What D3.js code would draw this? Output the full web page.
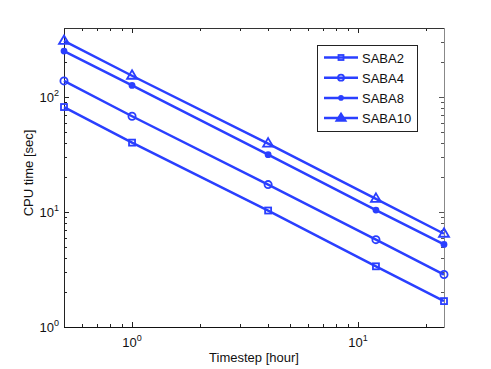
<!DOCTYPE html>
<html><head><meta charset="utf-8">
<script src="https://cdn.jsdelivr.net/npm/d3@7"></script>
<style>body{margin:0;background:#fff;}svg{display:block;font-family:"Liberation Sans",Arial,sans-serif;}</style>
</head><body>
<svg id="c" width="491" height="369"></svg>
<script>
const timesteps = [0.5, 1, 4, 12, 24];
const seriesNames = ["SABA2", "SABA4", "SABA8", "SABA10"];
const saba2 = [81.8, 40.1, 10.3, 3.37, 1.68];
const saba4 = [138, 68, 17.3, 5.75, 2.86];
const saba8 = [251, 126, 31.5, 10.4, 5.22];
const saba10 = [307, 153, 39.3, 13.0, 6.47];
const seriesValues = [saba2, saba4, saba8, saba10];
const markerTypes = ["square", "circle", "dot", "triangle"];
const xTickExps = [0, 1];
const yTickExps = [0, 1, 2];

const color = "#2a3fff";
const svg = d3.select("#c");
const L = 64, R = 444, T = 28, B = 327;
const x = d3.scaleLog().domain([0.5, 24]).range([L, R]);
const y = d3.scaleLog().domain([1, 398]).range([B, T]);

const xMinor = [];
for (let d = -1; d <= 1; d++) for (let m = 1; m <= 9; m++) { const v = m * Math.pow(10, d); if (v >= 0.5 && v <= 24) xMinor.push(v); }
const yMinor = [];
for (let d = 0; d <= 2; d++) for (let m = 1; m <= 9; m++) { const v = m * Math.pow(10, d); if (v >= 1 && v <= 398) yMinor.push(v); }

const g = svg.append("g");
const tk = g.append("g").attr("stroke", "#222").attr("stroke-width", 1);
const isMajor = v => Math.abs(Math.log10(v) - Math.round(Math.log10(v))) < 1e-9;
xMinor.forEach(v => {
  const len = isMajor(v) ? 5 : 3;
  const px = Math.round(x(v)) + 0.5;
  tk.append("line").attr("x1", px).attr("x2", px).attr("y1", B).attr("y2", B - len);
  tk.append("line").attr("x1", px).attr("x2", px).attr("y1", T).attr("y2", T + len);
});
yMinor.forEach(v => {
  const len = isMajor(v) ? 5 : 3;
  const py = Math.round(y(v)) + 0.5;
  tk.append("line").attr("y1", py).attr("y2", py).attr("x1", L).attr("x2", L + len);
  tk.append("line").attr("y1", py).attr("y2", py).attr("x1", R).attr("x2", R - len).attr("stroke", "#555");
});
// frame
g.append("line").attr("x1", L + 0.5).attr("x2", L + 0.5).attr("y1", T).attr("y2", B + 1).attr("stroke", "#222");
g.append("line").attr("x1", L).attr("x2", R + 1).attr("y1", B + 0.5).attr("y2", B + 0.5).attr("stroke", "#111");
g.append("line").attr("x1", L).attr("x2", R + 1).attr("y1", T + 0.5).attr("y2", T + 0.5).attr("stroke", "#333");
g.append("line").attr("x1", R + 0.5).attr("x2", R + 0.5).attr("y1", T).attr("y2", B + 1).attr("stroke", "#888");

xTickExps.forEach(e => {
  const t = g.append("text").attr("x", x(Math.pow(10, e))).attr("y", B + 20).attr("text-anchor", "middle")
    .attr("font-size", 13).attr("fill", "#111");
  t.append("tspan").text("10");
  t.append("tspan").attr("dy", -6).attr("font-size", 9).text(e);
});
yTickExps.forEach(e => {
  const t = g.append("text").attr("x", L - 5).attr("y", y(Math.pow(10, e)) + 5).attr("text-anchor", "end")
    .attr("font-size", 13).attr("fill", "#111");
  t.append("tspan").text("10");
  t.append("tspan").attr("dy", -6).attr("font-size", 9).text(e);
});
g.append("text").attr("x", (L + R) / 2).attr("y", 362).attr("text-anchor", "middle")
  .attr("font-size", 13).attr("fill", "#111").text("Timestep [hour]");
g.append("text").attr("transform", `translate(33,173) rotate(-90)`).attr("text-anchor", "middle")
  .attr("font-size", 13).attr("fill", "#111").text("CPU time [sec]");

function drawMarker(sel, type, cx, cy) {
  if (type === "square") {
    sel.append("rect").attr("x", cx - 3).attr("y", cy - 3).attr("width", 6).attr("height", 6)
      .attr("fill", "none").attr("stroke", color).attr("stroke-width", 1.8);
  } else if (type === "circle") {
    sel.append("circle").attr("cx", cx).attr("cy", cy).attr("r", 3.6)
      .attr("fill", "none").attr("stroke", color).attr("stroke-width", 1.8);
  } else if (type === "dot") {
    sel.append("circle").attr("cx", cx).attr("cy", cy).attr("r", 3.4).attr("fill", color);
  } else {
    sel.append("path").attr("d", `M${cx},${cy - 5.5}L${cx + 5},${cy + 3}L${cx - 5},${cy + 3}Z`)
      .attr("fill", "none").attr("stroke", color).attr("stroke-width", 1.8).attr("stroke-linejoin", "miter");
  }
}

const line = d3.line().x((d, i) => x(timesteps[i])).y(d => y(d));
seriesValues.forEach((vals, s) => {
  const sg = svg.append("g");
  sg.append("path").attr("d", line(vals)).attr("fill", "none").attr("stroke", color).attr("stroke-width", 2.5);
  vals.forEach((v, i) => drawMarker(sg, markerTypes[s], x(timesteps[i]), y(v)));
});

const lg = svg.append("g");
lg.append("rect").attr("x", 317.5).attr("y", 45.5).attr("width", 100).attr("height", 86)
  .attr("fill", "#fff").attr("stroke", "#222").attr("stroke-width", 1);
seriesNames.forEach((n, i) => {
  const ly = 57.5 + i * 20.2;
  lg.append("line").attr("x1", 324).attr("x2", 358).attr("y1", ly).attr("y2", ly)
    .attr("stroke", color).attr("stroke-width", 2.5);
  const mt = markerTypes[i];
  if (mt === "square") {
    lg.append("rect").attr("x", 338.5).attr("y", ly - 2.5).attr("width", 5).attr("height", 5).attr("fill", "none").attr("stroke", color).attr("stroke-width", 1.8);
  } else if (mt === "circle") {
    lg.append("circle").attr("cx", 341).attr("cy", ly).attr("r", 3).attr("fill", "none").attr("stroke", color).attr("stroke-width", 1.8);
  } else if (mt === "dot") {
    lg.append("circle").attr("cx", 341).attr("cy", ly).attr("r", 2.8).attr("fill", color);
  } else {
    lg.append("path").attr("d", `M341,${ly - 5}L346,${ly + 3}L336,${ly + 3}Z`).attr("fill", color).attr("stroke", color).attr("stroke-width", 1.5);
  }
  lg.append("text").attr("x", 362).attr("y", ly + 5).attr("font-size", 13).attr("fill", "#111").text(n);
});
</script>
</body></html>
